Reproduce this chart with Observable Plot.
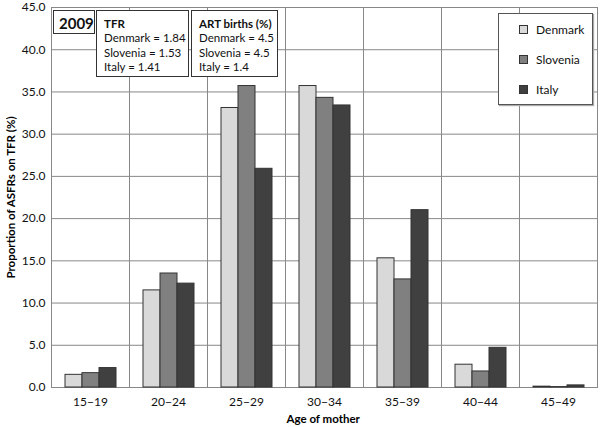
<!DOCTYPE html>
<html><head><meta charset="utf-8">
<script src="https://cdn.jsdelivr.net/npm/d3@7"></script>
<script src="https://cdn.jsdelivr.net/npm/@observablehq/plot@0.6"></script>
<style>
body{margin:0;background:#fff;font-family:Lato,"Open Sans",sans-serif;}
#wrap{position:relative;width:600px;height:427px;}
.box{position:absolute;border:1px solid #333;background:#fff;font-size:11.5px;color:#111;box-sizing:border-box;white-space:nowrap;overflow:hidden;}
.ylab{position:absolute;font-weight:bold;font-size:11.5px;white-space:nowrap;transform:rotate(-90deg);transform-origin:center;}
.xlab{position:absolute;font-weight:bold;font-size:11.5px;white-space:nowrap;}
.sw{display:inline-block;width:7px;height:7px;border:1px solid #333;margin-right:8px;vertical-align:0px;}
</style></head>
<body><div id="wrap"></div>
<script>
const ageGroups = ["15−19","20−24","25−29","30−34","35−39","40−44","45−49"];
const countries = ["Denmark","Slovenia","Italy"];
const denmark  = [1.5, 11.5, 33.1, 35.7, 15.3, 2.7, 0.1];
const slovenia = [1.7, 13.5, 35.7, 34.3, 12.8, 1.9, 0.05];
const italy    = [2.3, 12.3, 25.9, 33.4, 21.0, 4.7, 0.25];
const colors = ["#d9d9d9","#808080","#404040"];
const yTicks = [0,5,10,15,20,25,30,35,40,45];
const year = "2009";
const tfr = ["Denmark = 1.84","Slovenia = 1.53","Italy = 1.41"];
const art = ["Denmark = 4.5","Slovenia = 4.5","Italy = 1.4"];

const series = [denmark, slovenia, italy];
const data = [];
ageGroups.forEach((g,i)=>countries.forEach((c,j)=>data.push({age:g,country:c,value:series[j][i]})));

const chart = Plot.plot({
  width:600, height:427,
  marginLeft:49, marginRight:2, marginTop:7, marginBottom:40,
  style:{fontFamily:"Lato, 'Open Sans', sans-serif", fontSize:"12px", color:"#111"},
  fx:{domain:ageGroups, paddingInner:0, paddingOuter:0, label:null, tickSize:0, tickPadding:10},
  x:{domain:countries, paddingInner:0, paddingOuter:0.74, axis:null},
  y:{domain:[0,45], ticks:yTicks, tickFormat:d=>d.toFixed(1), tickSize:0, tickPadding:6, label:null},
  color:{domain:countries, range:colors},
  facet:{data, x:"age"},
  marks:[
    Plot.ruleY(yTicks, {stroke:"#888", strokeWidth:1}),
    Plot.frame({stroke:"#888", strokeWidth:1}),
    Plot.barY(data, {x:"country", y:"value", fill:"country", stroke:"#333", strokeWidth:1, inset:0})
  ]
});
const wrap = document.getElementById("wrap");
wrap.appendChild(chart);

function addBox(x,y,w,h,html,extra){
  const d=document.createElement("div");d.className="box";
  Object.assign(d.style,{left:x+"px",top:y+"px",width:w+"px",height:h+"px"},extra||{});
  d.innerHTML=html;wrap.appendChild(d);return d;
}
addBox(53,10,42,24,`<div style="font-weight:bold;font-size:15px;line-height:18px;padding:3px 0 0 5px">${year}</div>`);
const lines = arr => arr.map(t=>`<div style="height:14.3px;line-height:14.3px">${t}</div>`).join("");
addBox(96,10,93,67,`<div style="padding:6px 0 0 7px"><div style="height:14.3px;line-height:14.3px;font-weight:bold">TFR</div>${lines(tfr)}</div>`);
addBox(191,10,87,67,`<div style="padding:6px 0 0 7px"><div style="height:14.3px;line-height:14.3px;font-weight:bold">ART births (%)</div>${lines(art)}</div>`);
addBox(498,13,95,92,countries.map((c,i)=>`<div style="position:absolute;left:20px;top:${8+i*30}px;font-size:12px"><span class="sw" style="background:${colors[i]}"></span>${c}</div>`).join(""),{borderColor:"#555",boxShadow:"1px 1px 1px #aaa"});

const yl=document.createElement("div");yl.className="ylab";yl.textContent="Proportion of ASFRs on TFR (%)";
wrap.appendChild(yl);
const w=yl.offsetWidth,h=yl.offsetHeight;
yl.style.left=(10-w/2)+"px";yl.style.top=(197-h/2)+"px";
const xl=document.createElement("div");xl.className="xlab";xl.textContent="Age of mother";
wrap.appendChild(xl);
xl.style.left=(323-xl.offsetWidth/2)+"px";xl.style.top="412px";
</script></body></html>
